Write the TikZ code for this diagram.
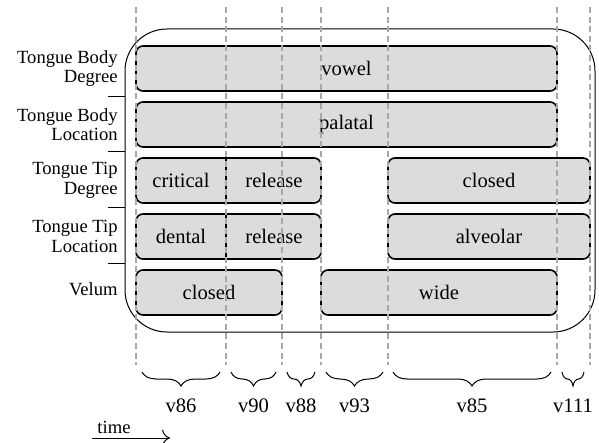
\documentclass[tikz,border=0pt]{standalone}
\usepackage{fontspec}
\setmainfont{Liberation Serif}
\usetikzlibrary{decorations.pathreplacing,arrows.meta}
\definecolor{barfill}{HTML}{DCDCDC}
\definecolor{tgray}{HTML}{A8A8A8}
\tikzset{
  bar/.style={draw=black,line width=0.8pt,rounded corners=3.5pt,fill=barfill,
              minimum height=22.5pt,inner sep=0pt,font=\fontsize{10.3}{12}\selectfont},
  txt/.style={inner sep=0pt,font=\fontsize{10.3}{12}\selectfont},
  lbl/.style={anchor=east,align=right,inner sep=0pt,font=\fontsize{9.3}{9.8}\selectfont},
  tline/.style={tgray,line width=0.6pt,dash pattern=on 3pt off 1.8pt},
  brc/.style={decorate,decoration={brace,mirror,amplitude=7pt},line width=0.5pt},
}

\begin{document}
\begin{tikzpicture}[x=0.5pt,y=-0.5pt]
  \useasboundingbox (0,0) rectangle (599,443);
  % frame round the gestures
  \draw[line width=0.5pt,rounded corners=21pt] (125,29) rectangle (595,332);
  \foreach \y in {97,152,208,263} \draw[line width=0.5pt] (108,\y) -- (125,\y);
  % tier names
  \node[lbl] (nTBD) at (118,68.5) {Tongue Body\\Degree};
  \node[lbl] (nTBL) at (118,124.5) {Tongue Body\\Location};
  \node[lbl] (nTTD) at (118,180.5) {Tongue Tip\\Degree};
  \node[lbl] (nTTL) at (118,236.5) {Tongue Tip\\Location};
  \node[lbl] (nVel) at (118,289) {Velum};
  % gestures
  \node[bar,minimum width=210.5pt] (bTBD) at (346.5,68.5) {vowel};
  \node[bar,minimum width=210.5pt] (bTBL) at (346.5,124.5) {palatal};
  \node[bar,minimum width=92.5pt] (bTTDa) at (228.5,180.5) {};
  \draw[line width=0.8pt] (226,158) -- (226,203);
  \node[txt] (critical) at (181,180.5) {critical};
  \node[txt] (relA) at (274,180.5) {release};
  \node[bar,minimum width=101pt] (bTTDb) at (489,180.5) {closed};
  \node[bar,minimum width=92.5pt] (bTTLa) at (228.5,236.5) {};
  \draw[line width=0.8pt] (226,214) -- (226,259);
  \node[txt] (dental) at (181,236.5) {dental};
  \node[txt] (relB) at (274,236.5) {release};
  \node[bar,minimum width=101pt] (bTTLb) at (489,236.5) {alveolar};
  \node[bar,minimum width=73pt] (bVela) at (209,292.5) {closed};
  \node[bar,minimum width=118pt] (bVelb) at (439,292.5) {wide};
  % time marks
  \foreach \x in {136,226,282,321,388,557,590}
    \draw[tline] (\x,7) -- (\x,365);
  % intervals
  \draw[brc] (142,372) -- (220,372);
  \draw[brc] (231,372) -- (276,372);
  \draw[brc] (287,372) -- (315,372);
  \draw[brc] (326,372) -- (383,372);
  \draw[brc] (393,372) -- (551,372);
  \draw[brc] (562,372) -- (584,372);
  \node[txt] (v86) at (181,406) {v86};
  \node[txt] (v90) at (253.5,406) {v90};
  \node[txt] (v88) at (301,406) {v88};
  \node[txt] (v93) at (354.5,406) {v93};
  \node[txt] (v85) at (472,406) {v85};
  \node[txt] (v111) at (573,406) {v111};
  % time arrow
  \node[inner sep=0pt,font=\fontsize{9.3}{11}\selectfont] (time) at (114,427) {time};
  \coordinate (t0) at (92,438);
  \coordinate (t1) at (170,438);
  \draw[line width=0.5pt,-{To[length=4pt]}] (t0) -- (t1);
\end{tikzpicture}
\end{document}
